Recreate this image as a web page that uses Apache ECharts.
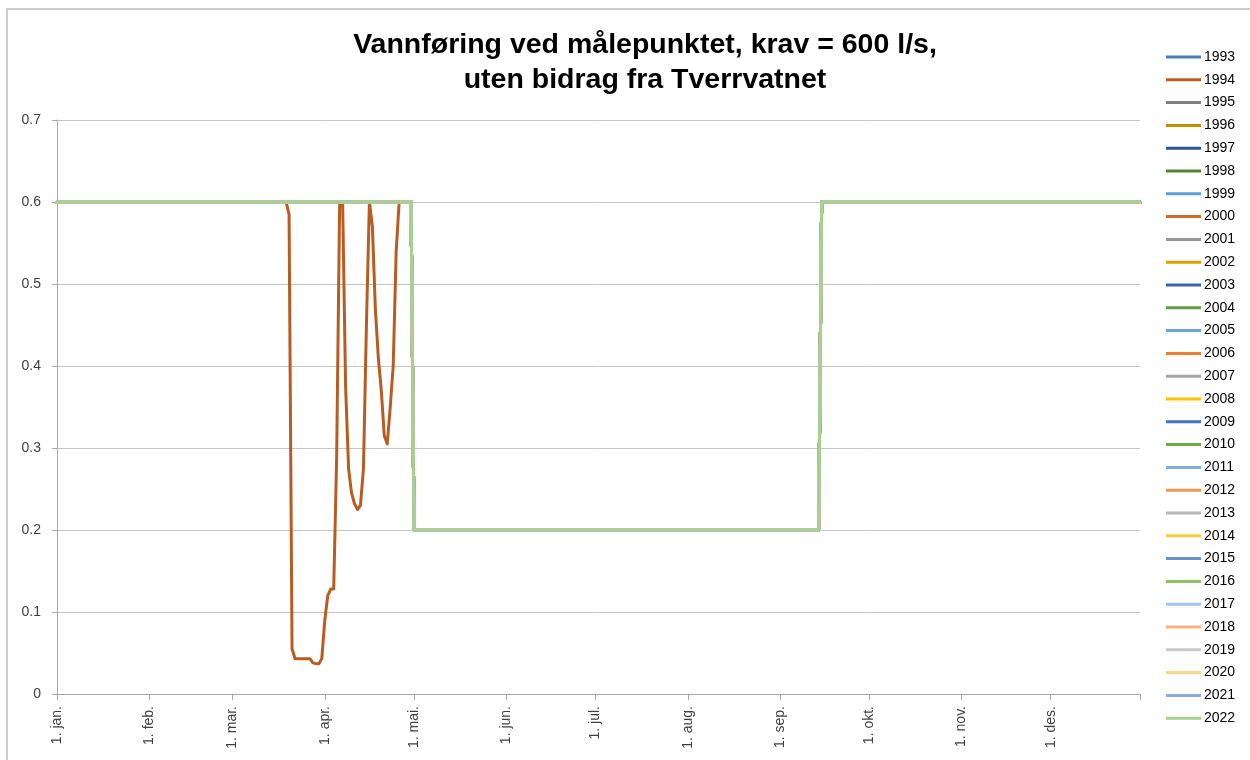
<!DOCTYPE html>
<html>
<head>
<meta charset="utf-8">
<title>Vannføring ved målepunktet</title>
<script src="https://cdn.jsdelivr.net/npm/echarts@6/dist/echarts.min.js"></script>
<style>
  html, body { margin: 0; padding: 0; background: #fff; }
  #chart { width: 1250px; height: 760px; }
</style>
</head>
<body>
<div id="chart"></div>
<script>
// one category per day of the year, 1. jan = index 0
const dayCount = 365
const monthStartDays = [0, 31, 59, 90, 120, 151, 181, 212, 243, 273, 304, 334]
const monthLabels = ['1. jan.', '1. feb.', '1. mar.', '1. apr.', '1. mai.', '1. jun.',
  '1. jul.', '1. aug.', '1. sep.', '1. okt.', '1. nov.', '1. des.']

const years = ['1993', '1994', '1995', '1996', '1997', '1998', '1999', '2000', '2001', '2002',
  '2003', '2004', '2005', '2006', '2007', '2008', '2009', '2010', '2011', '2012',
  '2013', '2014', '2015', '2016', '2017', '2018', '2019', '2020', '2021', '2022']
const yearColors = ['#4a7ebb', '#b85c22', '#7f7f7f', '#bf9000', '#2f5597', '#548235', '#5a9bd5', '#cc6a2d', '#969696', '#daa300',
  '#3b64ad', '#5e9e3c', '#6aa3d8', '#ed7d31', '#a5a5a5', '#ffc000', '#4472c4', '#70ad47', '#7cafdd', '#f1975a',
  '#b7b7b7', '#ffcd33', '#698ed0', '#8cc168', '#a3c4e8', '#f4b183', '#c9c9c9', '#ffd78a', '#8faadc', '#a9d18e']

// requirement (m3/s) in force from each start day: 0.6 until 30. apr, 0.2 from 1. mai, 0.6 from 15. sep
const kravStartDays = [0, 120, 257]
const kravValues = [0.6, 0.2, 0.6]

// 1994 falls below the requirement in late March / April
const dip1994Days = [78, 79, 80, 81, 82, 83, 84, 85, 86, 87, 88, 89, 90, 91, 92, 93, 94, 95, 96, 97,
  98, 99, 100, 101, 102, 103, 104, 105, 106, 107, 108, 109, 110, 111, 112, 113, 114]
const dip1994Values = [0.585, 0.055, 0.043, 0.043, 0.043, 0.043, 0.043, 0.043, 0.038, 0.037, 0.037, 0.043, 0.09, 0.12, 0.128, 0.128, 0.29, 0.6, 0.6, 0.375,
  0.275, 0.245, 0.232, 0.225, 0.23, 0.275, 0.45, 0.6, 0.57, 0.47, 0.41, 0.37, 0.315, 0.305, 0.35, 0.4, 0.54]

const yTicks = { min: 0, max: 0.7, interval: 0.1 }

const categories = []
for (let d = 0; d < dayCount; d++) categories.push(String(d))

const kravForDay = (d) => {
  let v = kravValues[0]
  kravStartDays.forEach((start, i) => { if (d >= start) v = kravValues[i] })
  return v
}

const buildYear = (year) => {
  const values = categories.map((c, d) => kravForDay(d))
  if (year === '1994') {
    dip1994Days.forEach((d, i) => { values[d] = dip1994Values[i] })
  }
  return values
}

const series = years.map((year, i) => ({
  name: year,
  type: 'line',
  data: buildYear(year),
  symbol: 'none',
  silent: true,
  lineStyle: { width: 3, color: yearColors[i], join: 'round', cap: 'round' },
  itemStyle: { color: yearColors[i] },
  emphasis: { disabled: true }
}))

const font = '"Liberation Sans", Arial, sans-serif'

const chart = echarts.init(document.getElementById('chart'), null, { renderer: 'canvas' })
chart.setOption({
  animation: false,
  backgroundColor: '#fff',
  textStyle: { fontFamily: font },
  graphic: [
    {
      type: 'rect',
      shape: { x: 7, y: 9, width: 1300, height: 800 },
      style: { fill: 'none', stroke: '#bdbdbd', lineWidth: 1.5 },
      silent: true
    },
    {
      type: 'text',
      x: 645, y: 45,
      style: {
        text: 'Vannføring ved målepunktet, krav = 600 l/s,',
        font: 'bold 28.5px ' + font,
        fill: '#000',
        align: 'center',
        verticalAlign: 'middle'
      },
      silent: true
    },
    {
      type: 'text',
      x: 645, y: 80,
      style: {
        text: 'uten bidrag fra Tverrvatnet',
        font: 'bold 28.5px ' + font,
        fill: '#000',
        align: 'center',
        verticalAlign: 'middle'
      },
      silent: true
    }
  ],
  legend: {
    orient: 'vertical',
    left: 1166,
    top: 50,
    padding: 0,
    icon: 'rect',
    itemWidth: 35,
    itemHeight: 3,
    itemGap: 8.8,
    selectedMode: false,
    data: years,
    textStyle: { fontSize: 14, lineHeight: 14, color: '#000', fontFamily: font, padding: [0, 0, 0, -2] }
  },
  grid: {
    left: 57,
    right: 110,
    top: 120,
    bottom: 66
  },
  xAxis: {
    type: 'category',
    data: categories,
    boundaryGap: false,
    axisLine: { lineStyle: { color: '#a6a6a6', width: 1 } },
    axisTick: {
      length: 6,
      lineStyle: { color: '#a6a6a6' },
      interval: (idx) => monthStartDays.includes(idx) || idx === dayCount - 1
    },
    axisLabel: {
      rotate: 90,
      margin: 12,
      fontSize: 14,
      color: '#404040',
      interval: (idx) => monthStartDays.includes(idx),
      formatter: (value, idx) => {
        const m = monthStartDays.indexOf(Number(value))
        return m >= 0 ? monthLabels[m] : ''
      }
    },
    splitLine: { show: false }
  },
  yAxis: {
    type: 'value',
    min: yTicks.min,
    max: yTicks.max,
    interval: yTicks.interval,
    axisLine: { show: true, lineStyle: { color: '#a6a6a6', width: 1 } },
    axisTick: { show: true, length: 5, lineStyle: { color: '#a6a6a6' } },
    axisLabel: {
      fontSize: 14,
      color: '#404040',
      margin: 16,
      formatter: (v) => String(Math.round(v * 10) / 10)
    },
    splitLine: { lineStyle: { color: '#c4c4c4', width: 1 } }
  },
  series: series
})
</script>
</body>
</html>
